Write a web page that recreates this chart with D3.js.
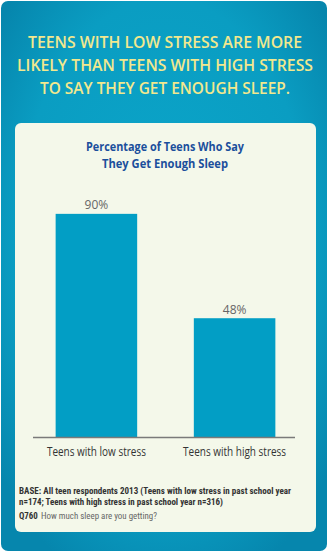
<!DOCTYPE html>
<html><head><meta charset="utf-8">
<script src="https://cdn.jsdelivr.net/npm/d3@7"></script>
<style>html,body{margin:0;padding:0;background:#fff;}svg{display:block;}</style>
</head><body>
<script>
const headline = ["TEENS WITH LOW STRESS ARE MORE","LIKELY THAN TEENS WITH HIGH STRESS","TO SAY THEY GET ENOUGH SLEEP."];
const chartTitle = ["Percentage of Teens Who Say","They Get Enough Sleep"];
const categories = ["Teens with low stress","Teens with high stress"];
const values = [90, 48];
const valueLabels = ["90%","48%"];
const baseNote = ["BASE: All teen respondents 2013 (Teens with low stress in past school year","n=174; Teens with high stress in past school year n=316)"];
const qCode = "Q760";
const qText = "How much sleep are you getting?";

const W = 330, H = 555;
const svg = d3.select("body").append("svg").attr("width", W).attr("height", H);
const defs = svg.append("defs");
const rg = defs.append("radialGradient").attr("id","bg").attr("cx","50%").attr("cy","45%").attr("r","65%");
rg.append("stop").attr("offset","0%").attr("stop-color","#0ba6ca");
rg.append("stop").attr("offset","70%").attr("stop-color","#0a9dc2");
rg.append("stop").attr("offset","100%").attr("stop-color","#0686ad");

svg.append("rect").attr("x",1).attr("y",1).attr("width",326).attr("height",550).attr("rx",7)
  .attr("fill","url(#bg)");

const hl = svg.append("g").attr("font-family","'Open Sans', sans-serif").attr("font-weight",600)
  .attr("fill","#f2e88e").attr("text-anchor","middle").attr("font-size",16);
const hlY = [48, 71, 94];
const hlW = [274, 296, 250];
headline.forEach((t,i)=> hl.append("text").attr("x",165).attr("y",hlY[i]).text(t)
  .attr("textLength",hlW[i]).attr("lengthAdjust","spacingAndGlyphs"));

svg.append("rect").attr("x",15).attr("y",123).attr("width",301).attr("height",409).attr("rx",6)
  .attr("fill","#f4f8ea");

const ct = svg.append("g").attr("font-family","'Open Sans', sans-serif").attr("font-weight",700)
  .attr("fill","#1b4f9c").attr("text-anchor","middle").attr("font-size",12);
const ctW = [158, 126];
chartTitle.forEach((t,i)=> ct.append("text").attr("x",165).attr("y",[151,168][i]).text(t)
  .attr("textLength",ctW[i]).attr("lengthAdjust","spacingAndGlyphs"));

const x = d3.scaleBand().domain(categories).range([28, 303]).paddingInner(0.41).paddingOuter(0.2);
const y = d3.scaleLinear().domain([0,100]).range([437.5, 189]);

svg.append("g").selectAll("rect").data(values).join("rect")
  .attr("x",(d,i)=>x(categories[i])).attr("width",x.bandwidth())
  .attr("y",d=>y(d)).attr("height",d=>y(0)-y(d)).attr("fill","#029ec5");

svg.append("g").selectAll("text").data(values).join("text")
  .attr("x",(d,i)=>x(categories[i])+x.bandwidth()/2).attr("y",d=>y(d)-4.5)
  .attr("text-anchor","middle").attr("font-family","'Open Sans', sans-serif").attr("font-size",12)
  .attr("fill","#666").text((d,i)=>valueLabels[i]);

const ax = svg.append("g").attr("transform",`translate(0,${y(0)})`)
  .call(d3.axisBottom(x).tickSize(0).tickPadding(10));
ax.select(".domain").attr("stroke","#7a7a7a").attr("stroke-width",1.5).attr("d","M33,0H295");
ax.selectAll("text").attr("font-family","'Open Sans', sans-serif").attr("font-size",12.5).attr("fill","#333")
  .attr("textLength",(d,i)=>[99,103][i]).attr("lengthAdjust","spacingAndGlyphs");

const fn = svg.append("g").attr("font-family","'Liberation Sans Narrow', 'Roboto Condensed', 'Liberation Sans', sans-serif").attr("font-size",8.5).attr("fill","#333");
fn.append("text").attr("x",19).attr("y",494).attr("font-weight",700).text(baseNote[0])
  .attr("textLength",272).attr("lengthAdjust","spacingAndGlyphs");
fn.append("text").attr("x",19).attr("y",505).attr("font-weight",700).text(baseNote[1])
  .attr("textLength",204).attr("lengthAdjust","spacingAndGlyphs");
const q = fn.append("text").attr("x",19).attr("y",518.5);
q.append("tspan").attr("font-weight",700).text(qCode);
q.append("tspan").attr("dx",3).attr("fill","#666").text(qText);
q.attr("textLength",138).attr("lengthAdjust","spacingAndGlyphs");
</script>
</body></html>
